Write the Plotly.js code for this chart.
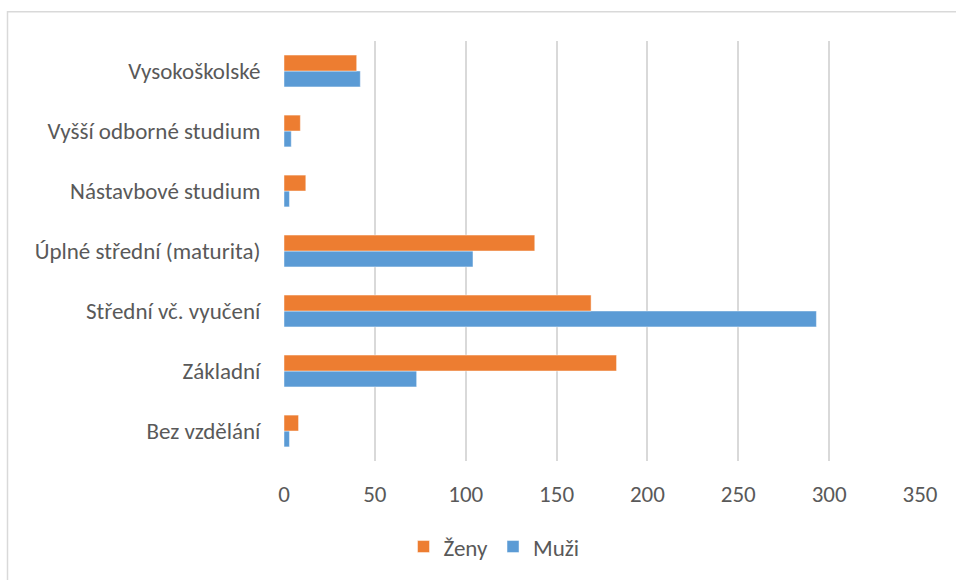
<!DOCTYPE html>
<html>
<head>
<meta charset="utf-8">
<script src="https://cdn.plot.ly/plotly-3.0.1.min.js"></script>
<style>
html,body{margin:0;padding:0;background:#fff;}
#chart{width:956px;height:580px;}
</style>
</head>
<body>
<div id="chart"></div>
<script>
const categories = ["Bez vzdělání","Základní","Střední vč. vyučení","Úplné střední (maturita)","Nástavbové studium","Vyšší odborné studium","Vysokoškolské"];
const muzi = [3, 73, 293, 104, 3, 4, 42];
const zeny = [8, 183, 169, 138, 12, 9, 40];
const xTicks = [0, 50, 100, 150, 200, 250, 300, 350];

const font = "Carlito, Calibri, Lato, 'Open Sans', sans-serif";
const textColor = "#595959";
const fs = 23;

const traces = [
  {type:"bar", orientation:"h", name:"Muži", y:categories, x:muzi,
   marker:{color:"#5B9BD5", line:{color:"rgba(255,255,255,0.45)", width:1}}, hoverinfo:"x+y"},
  {type:"bar", orientation:"h", name:"Ženy", y:categories, x:zeny,
   marker:{color:"#ED7D31", line:{color:"rgba(255,255,255,0.45)", width:1}}, hoverinfo:"x+y"}
];

const L=284, R=36, T=41, B=117, W=956, H=580;
const pw = W-L-R, ph = H-T-B;
const px = v => (v - L)/pw;
const py = v => 1 - (v - T)/ph;

const layout = {
  width:W, height:H,
  margin:{l:L, r:R, t:T, b:B, pad:0},
  paper_bgcolor:"#fff", plot_bgcolor:"#fff",
  font:{family:font, size:fs, color:textColor},
  barmode:"group", bargap:0.47, bargroupgap:0,
  showlegend:true,
  legend:{orientation:"h", traceorder:"reversed", x:px(494), xanchor:"center",
          y:py(549), yanchor:"middle", font:{family:font, size:fs, color:textColor},
          itemwidth:30, bgcolor:"rgba(0,0,0,0)"},
  xaxis:{range:[0,350], tickvals:xTicks, ticktext:xTicks.map(String),
         showgrid:true, gridcolor:"#d9d9d9", gridwidth:2, zeroline:false,
         showline:false, ticks:"outside", ticklen:12, tickcolor:"rgba(0,0,0,0)",
         tickfont:{family:font, size:fs, color:textColor}, fixedrange:true},
  yaxis:{type:"category", categoryorder:"array", categoryarray:categories,
         showgrid:false, zeroline:false, showline:false,
         ticks:"outside", ticklen:18, tickcolor:"rgba(0,0,0,0)",
         tickfont:{family:font, size:fs, color:textColor}, fixedrange:true},
  shapes:[
    {type:"rect", xref:"paper", yref:"paper", x0:px(7.5), x1:px(1000), y0:py(11.5), y1:py(700),
     line:{color:"#d9d9d9", width:1.5}, fillcolor:"rgba(0,0,0,0)", layer:"below"}
  ]
};

Plotly.newPlot("chart", traces, layout, {displayModeBar:false, staticPlot:true});
</script>
</body>
</html>
